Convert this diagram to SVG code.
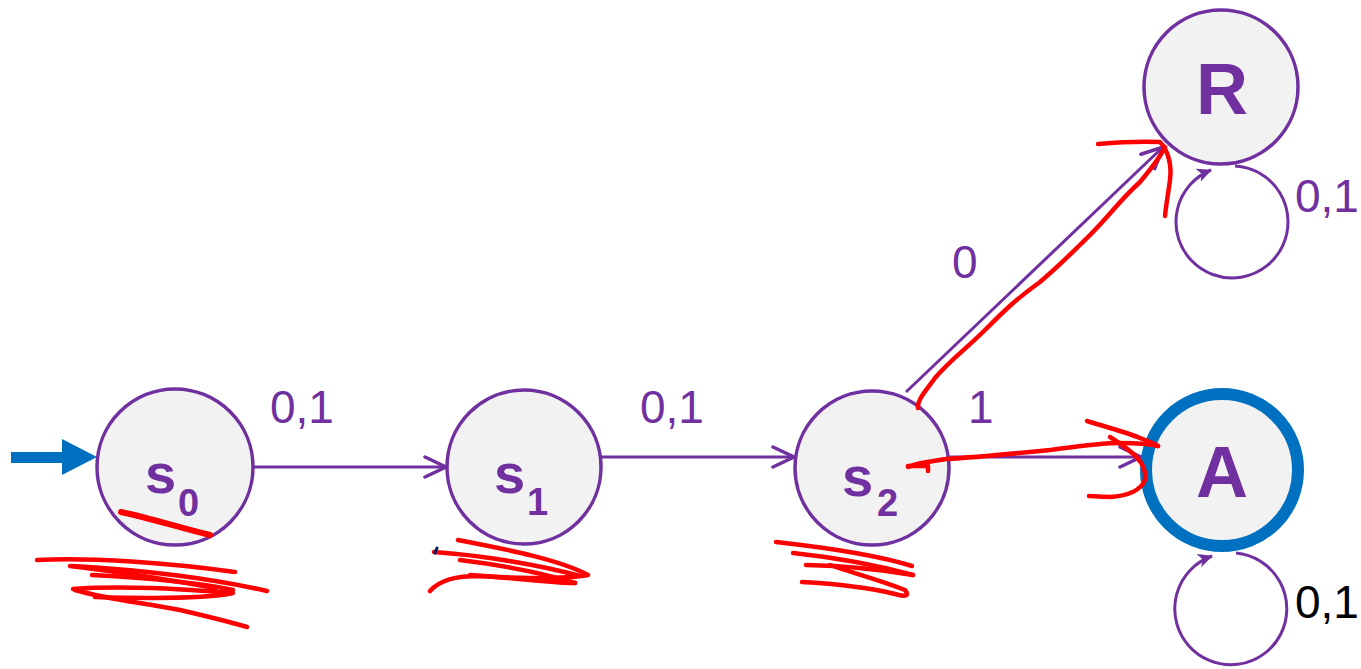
<svg xmlns="http://www.w3.org/2000/svg" width="1361" height="669" viewBox="0 0 1361 669">
<style>
.node{fill:#F2F2F2;stroke:#7030A0;stroke-width:3.5}
.acc{fill:#F2F2F2;stroke:#0070C0;stroke-width:12}
.edge{fill:none;stroke:#7030A0;stroke-width:3}
.nl{font-family:"Liberation Sans",Arial,sans-serif;font-weight:bold;fill:#7030A0}
.el{font-family:"Liberation Sans",Arial,sans-serif;font-size:46px;fill:#7030A0}
.red{fill:none;stroke:#FF0000;stroke-width:4.5;stroke-linecap:round;stroke-linejoin:round}
</style>
<defs>
<marker id="open" markerUnits="userSpaceOnUse" markerWidth="26" markerHeight="26" viewBox="0 0 26 26" refX="23" refY="13" orient="auto">
<path d="M2,3 L23,13 L2,23" fill="none" stroke="#7030A0" stroke-width="3.5" stroke-linecap="round"/>
</marker>
<marker id="solid" markerUnits="userSpaceOnUse" markerWidth="16" markerHeight="16" viewBox="0 0 16 16" refX="14" refY="8" orient="auto">
<path d="M0,1 L15,8 L0,15 L4,8 z" fill="#7030A0"/>
</marker>
</defs>
<g id="connectors">
<g id="start-arrow">
<rect x="11" y="452" width="55" height="11" fill="#0070C0"/>
<path d="M62,439 L97,457 L62,475 z" fill="#0070C0"/>
</g>
<path class="edge" d="M253,467 L446,467" marker-end="url(#open)"/>
<path class="edge" d="M602,457 L794,457" marker-end="url(#open)"/>
<path class="edge" d="M950,457 L1141,457" marker-end="url(#open)"/>
<path class="edge" d="M906,392 L1163,147" marker-end="url(#open)"/>
<path class="edge" d="M1235,166 A56,56 0 1 1 1211,170" marker-end="url(#solid)"/>
<path class="edge" d="M1236,553 A56,56 0 1 1 1212,556" marker-end="url(#solid)"/>
<text class="el" x="270" y="423">0,1</text>
<text class="el" x="640" y="423">0,1</text>
<text class="el" x="952" y="278">0</text>
<text class="el" x="968" y="423">1</text>
<text class="el" x="1295" y="212">0,1</text>
<text class="el" x="1295" y="618" style="fill:#000">0,1</text>
</g>
<g id="s0">
<circle class="node" cx="175" cy="467" r="78"/>
<text class="nl" x="145" y="493" font-size="56">s</text>
<text class="nl" x="178" y="516" font-size="38">0</text>
</g>
<g id="s1">
<circle class="node" cx="524" cy="467" r="77"/>
<text class="nl" x="494" y="493" font-size="56">s</text>
<text class="nl" x="527" y="515" font-size="38">1</text>
</g>
<g id="s2">
<circle class="node" cx="872" cy="468" r="77"/>
<text class="nl" x="842" y="496" font-size="56">s</text>
<text class="nl" x="877" y="516" font-size="38">2</text>
</g>
<g id="R">
<circle class="node" cx="1221" cy="87" r="77"/>
<text class="nl" x="1222" y="114" font-size="72" text-anchor="middle">R</text>
</g>
<g id="A">
<circle class="acc" cx="1222" cy="470" r="76"/>
<text class="nl" x="1222" y="497" font-size="72" text-anchor="middle">A</text>
</g>
<g id="annotations">
<path class="red" style="stroke-width:6" d="M121,512 C150,518 180,528 210,535"/>
<path class="red" d="M37,560 C90,557 170,563 235,572"/>
<path class="red" d="M73,566 C140,570 210,578 267,591"/>
<path class="red" d="M92,575 C150,578 200,583 233,590"/>
<path class="red" d="M73,589 C130,585 190,590 233,593 C200,600 130,598 95,597"/>
<path class="red" d="M75,590 C110,600 140,602 180,610 C210,617 230,622 247,627"/>
<path class="red" d="M70,566 C120,572 170,580 215,588"/>
<path class="red" d="M458,540 C510,550 560,560 588,575 C560,580 500,578 470,575"/>
<path class="red" d="M434,552 C480,555 540,565 580,576"/>
<path class="red" d="M460,560 C500,565 540,572 575,583"/>
<path class="red" d="M430,591 C440,580 455,576 480,576 C520,578 550,583 575,583"/>
<path d="M437,548 L435,553" stroke="#002060" stroke-width="3" stroke-linecap="round"/>
<path class="red" d="M776,542 C830,548 880,556 912,566"/>
<path class="red" d="M793,553 C840,558 880,566 913,575"/>
<path class="red" d="M806,565 C850,566 890,571 913,575"/>
<path class="red" d="M802,582 C840,584 870,588 895,594 C905,597 910,596 905,590 C880,580 850,572 830,565"/>
<path class="red" d="M918,408 C917,400 925,392 935,378 C950,360 965,350 985,330 C1005,310 1015,300 1040,282 C1060,265 1075,250 1090,235 C1110,215 1120,200 1140,182 C1150,170 1160,158 1165,147"/>
<path class="red" d="M1098,144 C1120,142 1140,141 1160,142 C1168,150 1172,165 1170,180 C1168,195 1166,205 1165,216"/>
<path class="red" d="M908,467 C920,462 935,461 946,459 C980,457 1020,453 1050,450 C1080,446 1100,443 1120,443 C1140,443 1150,444 1158,446"/>
<path class="red" d="M1087,421 C1110,428 1125,432 1140,438 C1148,441 1155,444 1158,446"/>
<path class="red" d="M1110,437 C1130,450 1148,462 1145,480 C1140,492 1125,496 1110,497 C1100,497 1092,496 1089,496"/>
<path class="red" d="M908,466 L928,466 L928,471"/>
</g>
</svg>
